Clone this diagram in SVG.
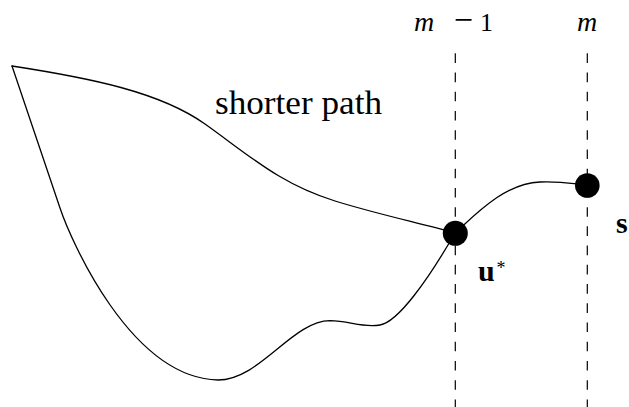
<svg xmlns="http://www.w3.org/2000/svg" width="629" height="407" viewBox="0 0 629 407">
<style>
.curve{fill:none;stroke:#000;stroke-width:1.3;stroke-linejoin:round;stroke-linecap:round}
.guide{fill:none;stroke:#000;stroke-width:1.2;stroke-dasharray:9.6 9.63}
.dot{fill:#000}
.t{font-family:"Liberation Serif","Times New Roman",serif;fill:#000}
.it{font-style:italic}
.bf{font-weight:bold}
.s26{font-size:26px}
.s28{font-size:28px}
.s30{font-size:30px}
.s34{font-size:34px}
.s18{font-size:18px}
</style>
<rect width="629" height="407" fill="#fff"/>
<g id="guides">
<line class="guide" x1="455.3" y1="53.3" x2="455.3" y2="407"/>
<line class="guide" x1="587.3" y1="53.3" x2="587.3" y2="407"/>
<text class="t it s28" x="414" y="31">m</text>
<text class="t s34" x="463.4" y="31" text-anchor="middle">−</text>
<text class="t s26" x="480" y="31">1</text>
<text class="t it s28" x="587" y="31" text-anchor="middle">m</text>
</g>
<g id="connectors">
<path class="curve" d="M12,66 C90,78 160,92 205,124 C250,156 280,184 335,201 C380,214.9 420,223 455,233"/>
<path class="curve" d="M12,66 L60,208 C70,238 130,378 218,380 C260,380 292,321 330,320.7 C350,321 362,328 380,325 C398,322 428,280 455,233"/>
<path class="curve" d="M455,233 C475,215 505,183 540,182 C560,181 575,184 587,185"/>
<text class="t s34" x="215" y="114" textLength="167" lengthAdjust="spacingAndGlyphs">shorter path</text>
</g>
<g id="node-u">
<circle class="dot" cx="455.3" cy="233.3" r="12.5"/>
<text class="t bf s30" x="478" y="281">u</text>
<text class="t s18" x="496.5" y="274">*</text>
</g>
<g id="node-s">
<circle class="dot" cx="587.3" cy="185.5" r="12.3"/>
<text class="t bf s30" x="616" y="233">s</text>
</g>
</svg>
